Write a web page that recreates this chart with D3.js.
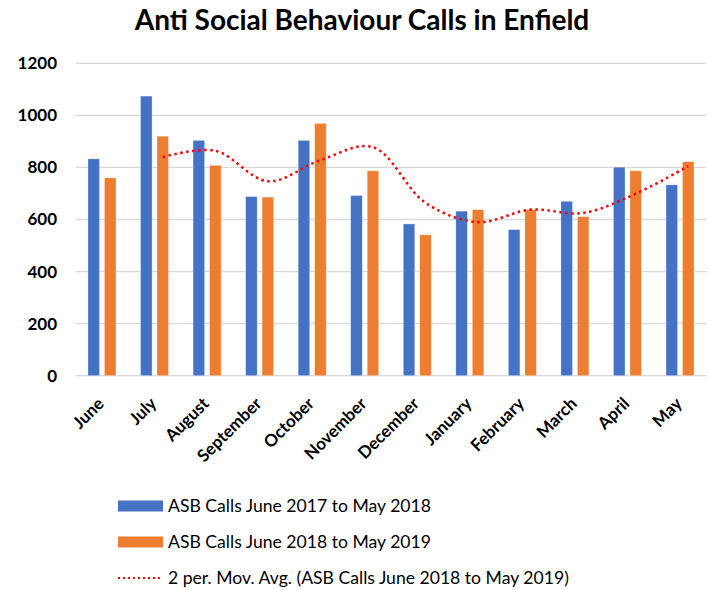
<!DOCTYPE html>
<html>
<head>
<meta charset="utf-8">
<script src="https://cdn.jsdelivr.net/npm/d3@7/dist/d3.min.js"></script>
<style>
  body { margin: 0; background: #fff; }
  svg { display: block; font-family: Lato, "Open Sans", sans-serif; }
  .grid line { stroke: #d9d9d9; stroke-width: 1.3; }
  .y-lbl, .x-lbl { font-weight: bold; font-size: 17px; fill: #000; }
  .legend text { font-size: 17.6px; fill: #000; }
</style>
</head>
<body>
<svg id="chart" width="710" height="590"></svg>
<script>
// values
const months = ['June', 'July', 'August', 'September', 'October', 'November',
    'December', 'January', 'February', 'March', 'April', 'May'];
const calls1718 = [833, 1074, 904, 688, 904, 692, 583, 632, 561, 670, 801, 733];
const calls1819 = [760, 920, 808, 686, 969, 787, 541, 638, 638, 611, 787, 822];
// 2 period moving average, starts at July
const movAvgMonths = ['July', 'August', 'September', 'October', 'November',
    'December', 'January', 'February', 'March', 'April', 'May'];
const movAvg = [840, 864, 747, 828, 878, 664, 590, 638, 625, 699, 805];
const yTicks = [0, 200, 400, 600, 800, 1000, 1200];
const seriesNames = ['ASB Calls June 2017 to May 2018', 'ASB Calls June 2018 to May 2019'];
const trendName = '2 per. Mov. Avg. (ASB Calls June 2018 to May 2019)';
const colors = ['#4472C4', '#ED7D31'];

const svg = d3.select('#chart');
const plot = {left: 75.7, right: 706.3, top: 63.3, bottom: 375.7};

const x0 = d3.scaleBand().domain(months).range([plot.left, plot.right]);
const x1 = d3.scaleBand().domain([0, 1]).range([0, 28]).paddingInner(0.3);
const groupOff = (x0.bandwidth() - 28) / 2;
const y = d3.scaleLinear().domain([0, 1200]).range([plot.bottom, plot.top]);

// title
svg.append('text')
    .attr('x', 362).attr('y', 30)
    .attr('text-anchor', 'middle')
    .style('font-size', '28px').style('font-weight', 'bold')
    .text('Anti Social Behaviour Calls in Enfield');

// gridlines
svg.append('g').attr('class', 'grid')
    .selectAll('line').data(yTicks).join('line')
    .attr('x1', plot.left).attr('x2', plot.right)
    .attr('y1', d => y(d)).attr('y2', d => y(d));

// y labels
svg.append('g').selectAll('text').data(yTicks).join('text')
    .attr('class', 'y-lbl')
    .attr('x', 57).attr('y', d => y(d))
    .attr('dy', '0.35em')
    .attr('text-anchor', 'end')
    .text(d => d);

// bars
[calls1718, calls1819].forEach((vals, s) => {
    svg.append('g').selectAll('rect').data(vals).join('rect')
        .attr('x', (d, i) => x0(months[i]) + groupOff + x1(s))
        .attr('y', d => y(d))
        .attr('width', x1.bandwidth())
        .attr('height', d => y(0) - y(d))
        .attr('fill', colors[s])
        .attr('stroke', '#fff').attr('stroke-opacity', 0.5).attr('stroke-width', 0.6);
});

// moving average trendline, at the orange bar centres
const line = d3.line()
    .x((d, i) => x0(movAvgMonths[i]) + groupOff + x1(1) + x1.bandwidth() / 2)
    .y(d => y(d))
    .curve(d3.curveCatmullRom.alpha(0.5));
svg.append('path')
    .attr('d', line(movAvg))
    .attr('fill', 'none')
    .attr('stroke', '#FF0000')
    .attr('stroke-width', 2.5)
    .attr('stroke-dasharray', '2.5,3.5');

// x labels
svg.append('g').selectAll('text').data(months).join('text')
    .attr('class', 'x-lbl')
    .attr('text-anchor', 'end')
    .attr('transform', d => `translate(${x0(d) + x0.bandwidth() / 2 + 3},${plot.bottom + 29}) rotate(-45)`)
    .text(d => d);

// legend
const lg = svg.append('g').attr('class', 'legend');
const rows = [506, 542, 578];
seriesNames.forEach((name, i) => {
    lg.append('rect').attr('x', 118).attr('y', rows[i] - 5.5)
        .attr('width', 45).attr('height', 11).attr('fill', colors[i]);
    lg.append('text').attr('x', 168).attr('y', rows[i]).attr('dy', '0.35em').text(name);
});
lg.append('line')
    .attr('x1', 118).attr('x2', 162).attr('y1', rows[2]).attr('y2', rows[2])
    .attr('stroke', '#FF0000').attr('stroke-width', 2)
    .attr('stroke-dasharray', '2,3');
lg.append('text').attr('x', 168).attr('y', rows[2]).attr('dy', '0.35em').text(trendName);
</script>
</body>
</html>
